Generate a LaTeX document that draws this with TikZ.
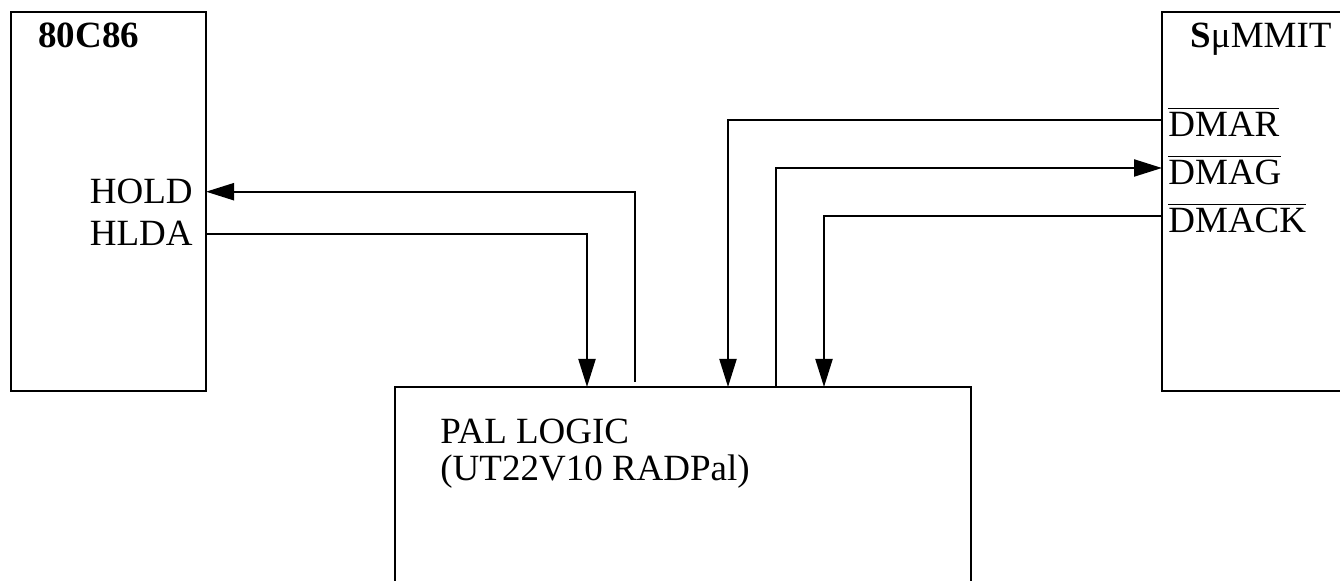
\documentclass[tikz,border=0pt]{standalone}
\usepackage{fontspec}
\setmainfont{Liberation Serif}
\usetikzlibrary{arrows.meta}

\begin{document}
\begin{tikzpicture}[x=0.5pt,y=-0.5pt,
                    chip/.style={rectangle,draw=black,line width=1.1pt,inner sep=0pt},
                    wire/.style={line width=1.1pt,-{Triangle[length=14pt,width=8.5pt]}},
                    txt/.style={font=\fontsize{18.5}{18.5}\selectfont,inner sep=0pt}]
                      \useasboundingbox (0,0) rectangle (1340,581);

                      \node (cpu) at (108.5,201.5) [chip,minimum width=97.5pt,minimum height=189.5pt] {};
                      \node (summit) at (1281,201.5) [chip,minimum width=119pt,minimum height=189.5pt] {};
                      \node (pal) at (683,513.5) [chip,minimum width=288pt,minimum height=126.5pt] {};

                      \node (cpuName) at (38,48) [txt,anchor=base west,font=\fontsize{18.5}{18.5}\selectfont\bfseries] {80C86};
                      \node (sumName) at (1190,48) [txt,anchor=base west] {\textbf{S}μMMIT};
                      \node (palName) at (440,419) [txt,anchor=north west,align=left] {PAL LOGIC\\(UT22V10 RADPal)};

                      \coordinate (cpu-hold) at (206,191.7);
                      \coordinate (cpu-hlda) at (206,233.7);
                      \coordinate (sum-dmar) at (1162,120);
                      \coordinate (sum-dmag) at (1162,168);
                      \coordinate (sum-dmack) at (1162,216);
                      \foreach \n/\x in {hlda/587,hold/635,dmar/728,dmag/776,dmack/824}
                        \coordinate (pal-\n) at (\x,387);

                      \node (lHold) at ([xshift=-6.5pt]cpu-hold) [txt,anchor=east] {HOLD};
                      \node (lHlda) at ([xshift=-6.5pt]cpu-hlda) [txt,anchor=east] {HLDA};
                      \foreach \n/\t in {dmar/DMAR,dmag/DMAG,dmack/DMACK}
                        \node (l-\n) at ([xshift=3pt,yshift=-8.5pt]sum-\n) [txt,anchor=base west] {$\overline{\mbox{\strut\t}}$};

                      \draw[wire] (cpu-hlda) -| (pal-hlda);
                      \draw[wire,shorten <=2.5pt] (pal-hold) |- (cpu-hold);
                      \draw[wire] (sum-dmar) -| (pal-dmar);
                      \draw[wire] (pal-dmag) |- (sum-dmag);
                      \draw[wire] (sum-dmack) -| (pal-dmack);
                \end{tikzpicture}
\end{document}
